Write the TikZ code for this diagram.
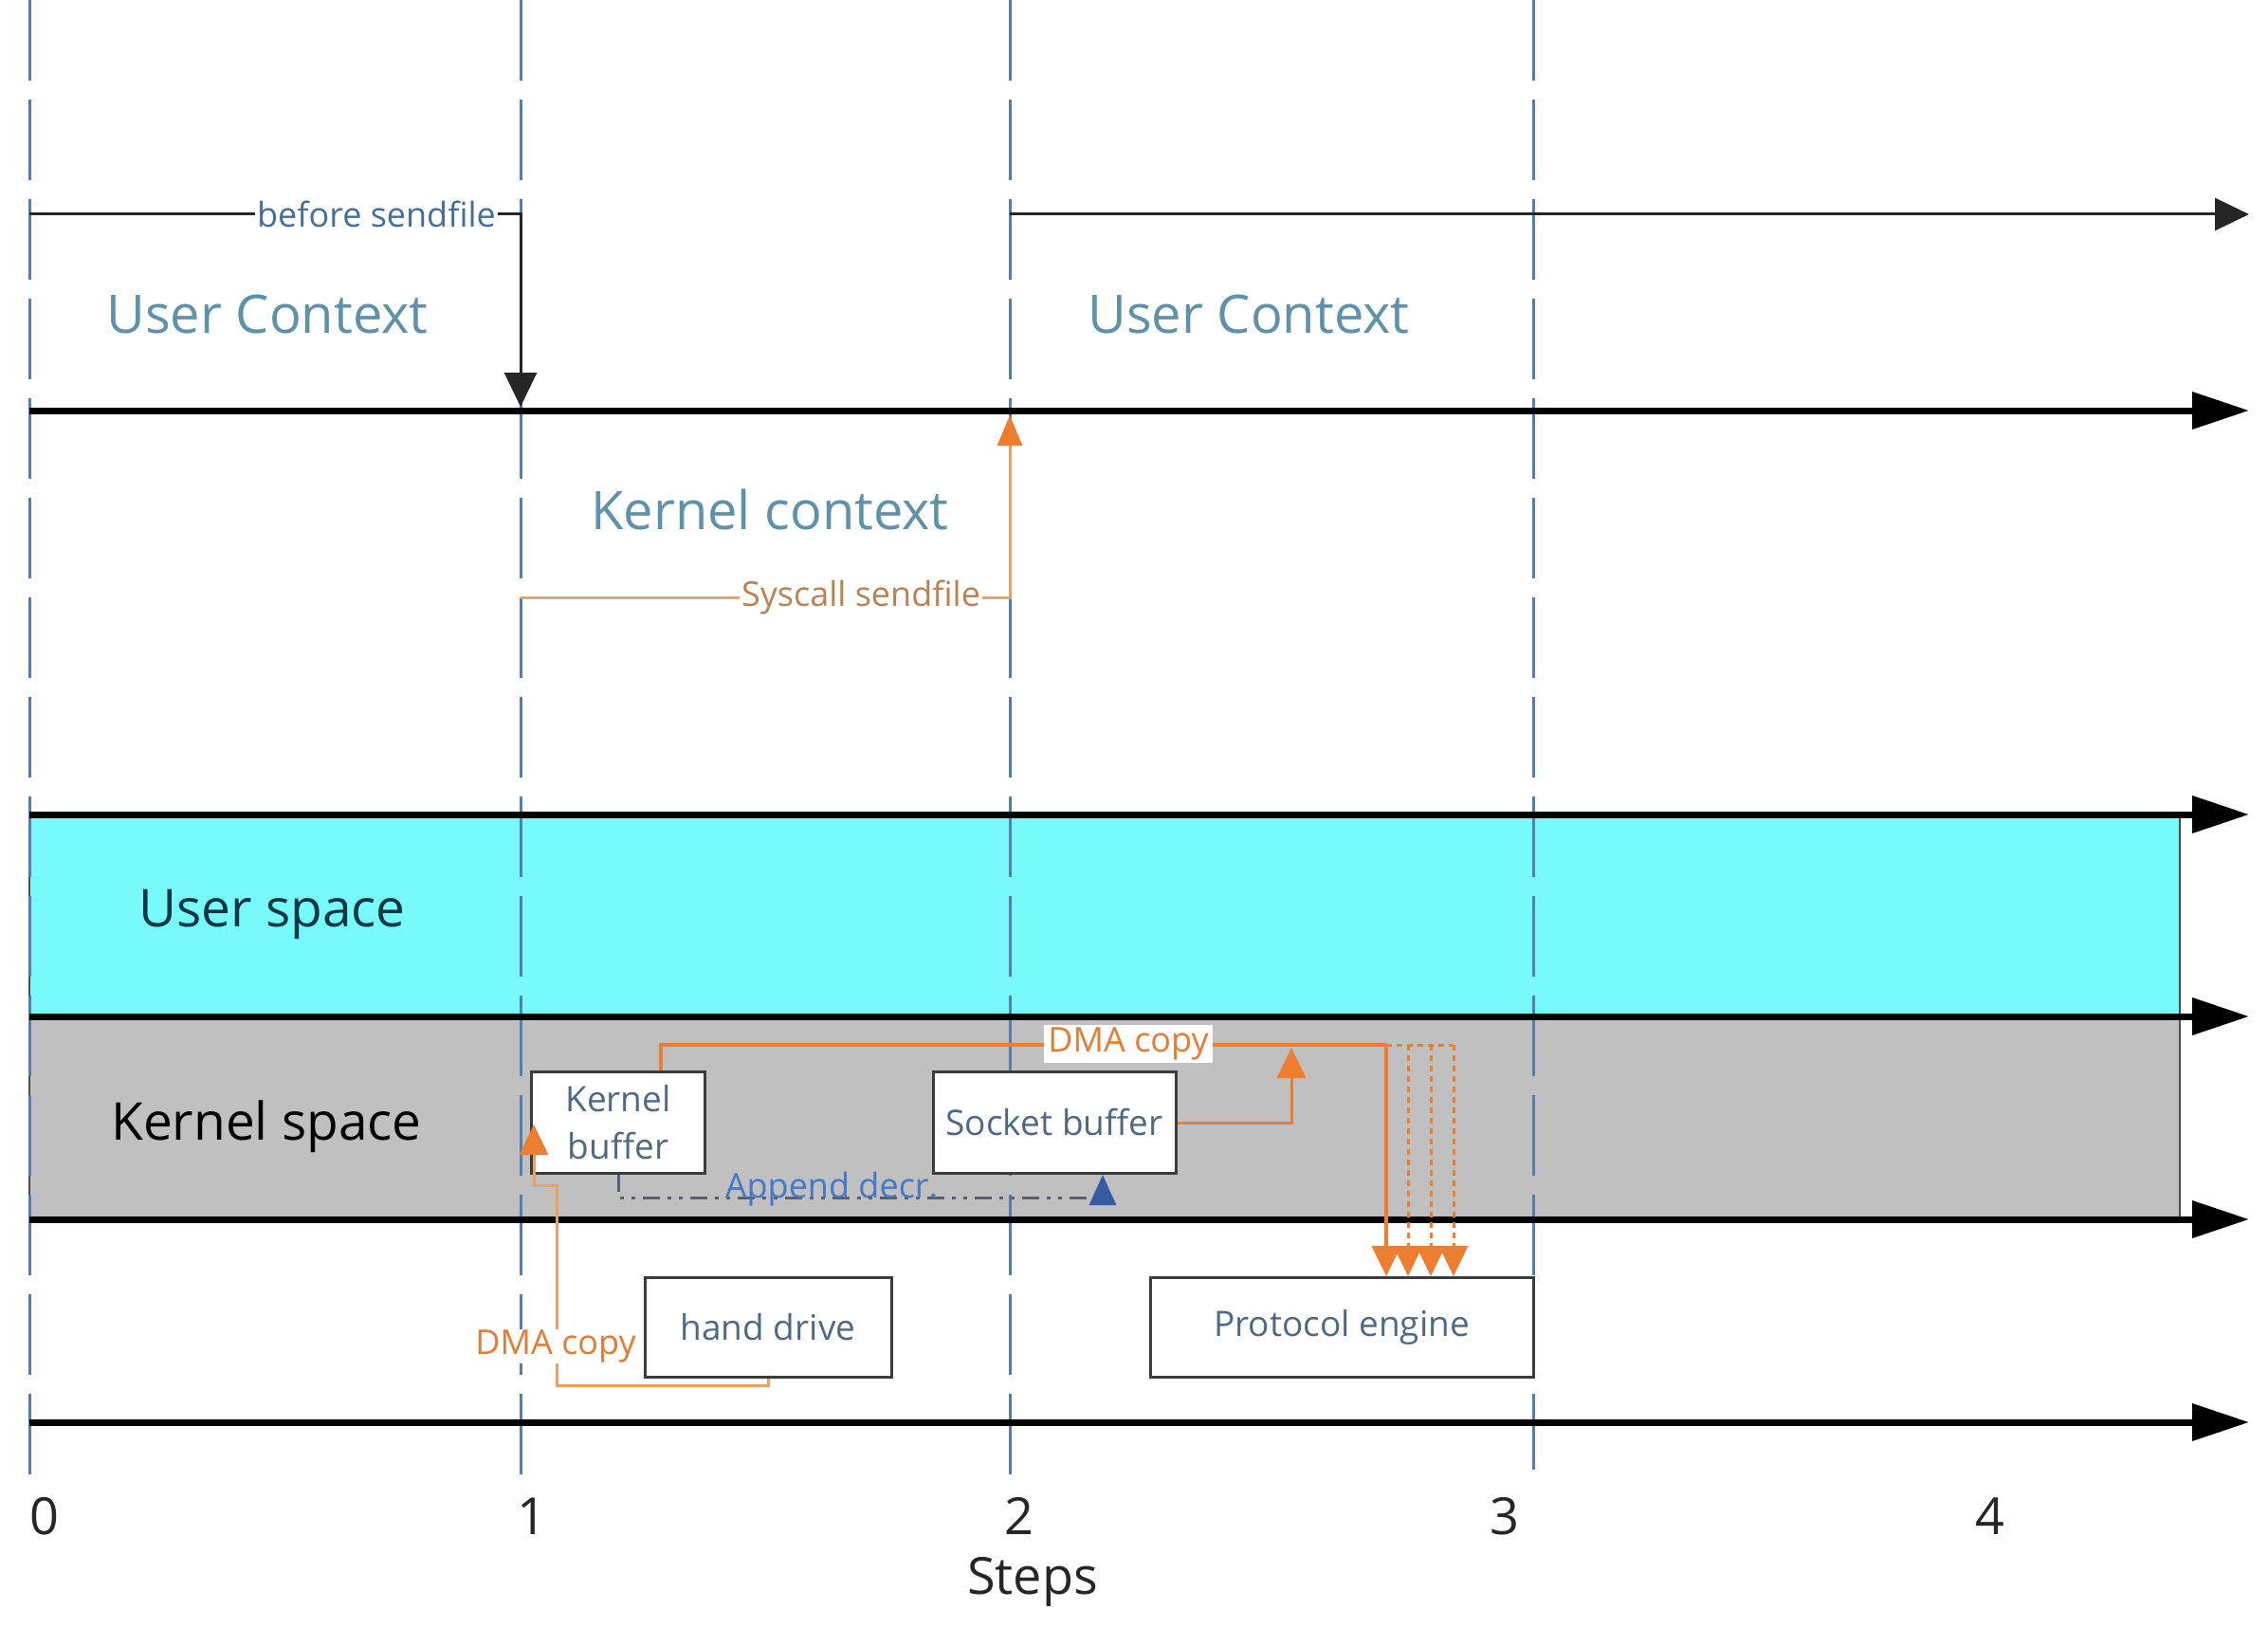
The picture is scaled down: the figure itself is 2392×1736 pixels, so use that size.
\documentclass[tikz,border=0pt]{standalone}
\usepackage{fontspec}
\setmainfont{Open Sans}
\usetikzlibrary{arrows.meta,calc}
\definecolor{ctxc}{RGB}{95,145,170}
\definecolor{lblc}{RGB}{70,110,150}
\definecolor{boxtxt}{RGB}{80,105,130}
\definecolor{appc}{RGB}{70,120,200}
\definecolor{orng}{RGB}{237,125,49}
\definecolor{orngl}{RGB}{235,160,100}
\definecolor{dmatxt}{RGB}{225,125,55}
\definecolor{sysc}{RGB}{185,130,85}
\definecolor{usptxt}{RGB}{10,55,70}
\definecolor{vdc}{RGB}{85,125,175}
\definecolor{cyanf}{RGB}{120,250,250}
\definecolor{grayf}{RGB}{192,192,192}
\definecolor{boxd}{RGB}{60,60,60}
\definecolor{dashg}{RGB}{90,95,110}
\definecolor{arrblue}{RGB}{55,90,160}
\begin{document}
\begin{tikzpicture}[x=1pt,y=-1pt,
  vline/.style={vdc,line width=3pt,dash pattern=on 85pt off 20pt},
  bigarrow/.style={black,line width=7pt,-{Triangle[length=60pt,width=38pt]}},
  thinarrow/.style={black!85,line width=3pt,-{Triangle[length=36pt,width=34pt]}},
  ctxlabel/.style={text=ctxc,font=\fontsize{56}{60}\selectfont,inner sep=0pt},
  spacelabel/.style={font=\fontsize{55}{60}\selectfont,inner sep=0pt},
  smalllabel/.style={font=\fontsize{36}{40}\selectfont,inner sep=2pt,fill=white},
  bufbox/.style={draw=boxd,line width=3pt,fill=white,text=boxtxt,
    font=\fontsize{37}{50}\selectfont,inner sep=0pt,align=center},
  numlabel/.style={font=\fontsize{54}{60}\selectfont,inner sep=0pt,text=black!85},
  sysline/.style={orngl,line width=3pt,-{Triangle[length=32pt,width=26pt,fill=orng,color=orng]}},
  dmaline/.style={orng,line width=4pt},
  dmadash/.style={orng,line width=3pt,dash pattern=on 6pt off 5pt},
  dmatip/.style={-{Triangle[length=32pt,width=30pt,fill=orng,color=orng]}},
  appline/.style={dashg,line width=3pt,dash pattern=on 18pt off 8pt on 4pt off 8pt on 4pt off 8pt,
    -{Triangle[length=32pt,width=28pt,fill=arrblue,color=arrblue]}}
]
\useasboundingbox (0,0) rectangle (2392,1736);
\fill[white] (0,0) rectangle (2392,1736);

% bands
\filldraw[fill=cyanf,draw=black!70,line width=2pt] (31,859) rectangle (2299,1072);
\filldraw[fill=grayf,draw=black!70,line width=2pt] (31,1072) rectangle (2299,1286);

% vertical step lines
\coordinate (v0t) at (31,0);    \coordinate (v0b) at (31,1565);
\coordinate (v1t) at (549,0);   \coordinate (v1b) at (549,1560);
\coordinate (v2t) at (1065,0);  \coordinate (v2b) at (1065,1560);
\coordinate (v3t) at (1617,0);  \coordinate (v3b) at (1617,1550);
\draw[vline] (v0t) -- (v0b);
\draw[vline] (v1t) -- (v1b);
\draw[vline] (v2t) -- (v2b);
\draw[vline] (v3t) -- (v3b);

% thick time lines
\foreach \n/\yy in {a/433,b/859,c/1072,d/1286,e/1500}{
  \coordinate (L\n s) at (31,\yy);
  \coordinate (L\n e) at (2372,\yy);
  \draw[bigarrow] (L\n s) -- (L\n e);
}

% top context arrows
\coordinate (bs0) at (31,226);
\coordinate (bs1) at (549,429);
\draw[thinarrow] (bs0) -| (bs1);
\node[smalllabel,text=lblc] (bslbl) at (397,226) {before sendfile};
\coordinate (uc0) at (1065,226);
\coordinate (uc1) at (2372,226);
\draw[thinarrow] (uc0) -- (uc1);

\node[ctxlabel] (uctx1) at (282,331) {User Context};
\node[ctxlabel] (uctx2) at (1317,331) {User Context};
\node[ctxlabel] (kctx) at (812,537) {Kernel context};

% syscall
\coordinate (sy0) at (549,630);
\coordinate (sy1) at (1065,438);
\draw[sysline] (sy0) -| (sy1);
\node[smalllabel,text=sysc] (sylbl) at (908,630) {Syscall sendfile};

% space labels
\node[spacelabel,text=usptxt] (uspace) at (287,964) {User space};
\node[spacelabel,text=black] (kspace) at (281,1188) {Kernel space};

% boxes
\node[bufbox,minimum width=183pt,minimum height=107pt] (kb) at (652,1184) {Kernel\\buffer};
\node[bufbox,minimum width=256pt,minimum height=107pt] (sb) at (1112,1184) {Socket buffer};
\node[bufbox,minimum width=260pt,minimum height=105pt] (hd) at (810,1400) {hand drive};
\node[bufbox,minimum width=404pt,minimum height=105pt] (pe) at (1415,1400) {Protocol engine};

% DMA copy: hand drive -> kernel buffer
\coordinate (h1) at (587,1461);
\coordinate (h2) at (587,1250);
\coordinate (h3) at (563,1250);
\coordinate (h4) at (563,1186);
\draw[orngl,line width=3pt,dmatip] (hd.south) |- (h1) -- (h2) -- (h3) -- (h4);
\node[font=\fontsize{36}{40}\selectfont,text=dmatxt,fill=white,inner sep=1pt] (dma1) at (586,1420) {DMA copy};

% DMA copy: kernel buffer -> protocol engine
\coordinate (k1) at ($(kb.north)+(45,0)$);
\coordinate (k2) at (697,1102);
\coordinate (k3) at (1462,1102);
\coordinate (k4) at (1532,1102);
\draw[dmaline] (k1) -- (k2) -- (k3);
\draw[dmadash] (k3) -- (k4);
\draw[dmaline,dmatip] (k3) -- (k3 |- pe.north);
\foreach \xx in {1485,1509,1533}{
  \coordinate (dd\xx) at (\xx,1102);
  \draw[dmadash,dmatip] (dd\xx) -- (dd\xx |- pe.north);
}
\node[font=\fontsize{36}{40}\selectfont,text=dmatxt,fill=white,inner xsep=4pt,inner ysep=3pt] (dma2) at (1190,1101) {DMA copy};

% socket buffer -> DMA
\coordinate (s1) at (1362,1184);
\coordinate (s2) at (1362,1105);
\draw[dmaline,line width=3pt,dmatip] (sb.east) -- (s1) -- (s2);

% append descriptor
\coordinate (a1) at (652,1263);
\coordinate (a2) at (1163,1263);
\draw[appline] (kb.south) -- (a1) -- (a2) -- (a2 |- sb.south);
\node[font=\fontsize{36}{40}\selectfont,text=appc,inner sep=0pt] (applbl) at (877,1254) {Append decr.};

% step numbers
\node[numlabel] (n0) at (47,1599) {0};
\node[numlabel] (n1) at (561,1599) {1};
\node[numlabel] (n2) at (1075,1599) {2};
\node[numlabel] (n3) at (1587,1599) {3};
\node[numlabel] (n4) at (2099,1599) {4};
\node[numlabel] (steps) at (1089,1668) {Steps};
\end{tikzpicture}
\end{document}
